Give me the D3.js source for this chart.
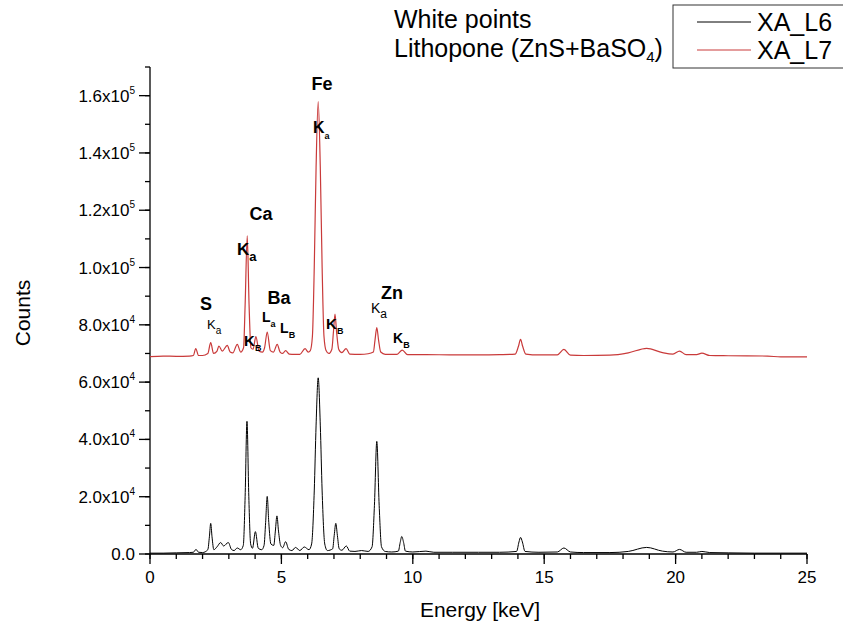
<!DOCTYPE html>
<html><head><meta charset="utf-8">
<script src="https://cdn.jsdelivr.net/npm/d3@7"></script>
<style>
html,body{margin:0;padding:0;background:#fff;}
svg{display:block;font-family:"Liberation Sans",Arial,sans-serif;}
</style></head>
<body>
<svg id="chart" width="843" height="633"></svg>
<script>
// ---- data: [energy keV, counts] ----
const spectrumL6 = [
[0,300],[0.5,300],[1.0,400],[1.5,500],[1.65,600],[1.75,1600],[1.85,600],[2.0,500],
[2.2,1500],[2.26,6000],[2.31,10700],[2.36,6000],[2.43,1500],[2.55,2500],[2.69,4000],[2.8,2800],[2.98,4000],
[3.1,1600],[3.2,1200],[3.32,2100],[3.45,1500],[3.55,3000],[3.62,20000],[3.69,46300],[3.76,20000],[3.83,3500],
[3.9,2000],[4.01,7800],[4.12,2000],[4.25,1500],[4.34,3000],[4.40,11000],[4.46,20100],[4.52,11000],[4.6,3500],
[4.71,3000],[4.77,8000],[4.83,13300],[4.89,8000],[4.97,3000],[5.05,2200],[5.16,4300],[5.28,1600],[5.4,1200],
[5.54,2300],[5.7,1200],[5.87,2450],[6.05,1500],[6.15,3500],[6.25,22000],[6.32,45000],[6.40,61500],[6.48,45000],
[6.55,22000],[6.65,3500],[6.75,1200],[6.95,1800],[7.01,6500],[7.07,10700],[7.13,6500],[7.2,1800],[7.3,1300],
[7.47,2800],[7.6,1000],[7.8,900],[8.05,1200],[8.3,900],[8.45,2500],[8.54,17000],[8.63,39300],[8.72,17000],
[8.81,2500],[8.95,900],[9.2,700],[9.45,1000],[9.52,4000],[9.58,6100],[9.65,4000],[9.72,1000],[10.0,700],
[10.5,1000],[10.8,600],[11.5,600],[12.5,600],[13.3,600],[13.95,900],[14.04,4200],[14.1,5800],[14.17,4200],
[14.27,900],[14.8,600],[15.5,700],[15.75,2100],[16.0,700],[16.5,500],[17.5,500],[18.2,900],[18.9,2300],
[19.5,1000],[19.9,700],[20.15,1600],[20.4,600],[20.8,600],[21.0,900],[21.3,500],[22,400],[23,300],[24,300],[25,300]
];
const spectrumL7 = [
[0,68900],[0.5,69100],[1.0,69000],[1.5,69100],[1.65,69300],[1.74,71700],[1.85,69300],[2.0,69300],
[2.2,70000],[2.31,73800],[2.42,70000],[2.55,70800],[2.62,72600],[2.75,70800],[2.94,72800],[3.05,70500],
[3.15,70200],[3.32,73200],[3.45,70500],[3.56,72000],[3.62,87000],[3.70,111100],[3.77,87000],[3.84,72000],
[3.92,71500],[4.03,75900],[4.15,70800],[4.28,70500],[4.36,72000],[4.46,77500],[4.58,71000],[4.7,70500],
[4.84,73200],[4.95,70500],[5.05,70000],[5.16,71000],[5.3,69800],[5.5,69700],[5.7,69700],[5.9,71700],
[6.02,70500],[6.1,71000],[6.18,76000],[6.25,100000],[6.32,135000],[6.40,157900],[6.48,135000],[6.55,100000],
[6.62,76000],[6.7,71000],[6.8,70000],[6.92,71500],[6.98,77500],[7.04,83700],[7.10,77500],[7.18,71500],
[7.3,70300],[7.46,71700],[7.6,69800],[8.0,69700],[8.3,69900],[8.5,70500],[8.56,74500],[8.63,79000],
[8.70,74500],[8.78,70500],[8.95,69700],[9.4,69700],[9.6,71200],[9.8,69600],[10.5,69600],[11.5,69500],
[12.5,69500],[13.3,69600],[13.9,69800],[14.02,72500],[14.1,74900],[14.18,72500],[14.3,69800],[14.8,69500],
[15.5,69500],[15.75,71400],[16.0,69400],[16.5,69300],[17.5,69400],[18.2,70200],[18.9,71800],[19.5,70300],
[19.9,69800],[20.15,70800],[20.4,69600],[20.8,69600],[21.0,70100],[21.3,69300],[22,69200],[23.5,69100],
[24.0,68800],[25,68800]
];
const seriesNames = ["XA_L6","XA_L7"];
const xMajorTicks = [0,5,10,15,20,25];
const xMinorTicks = d3.range(0,26,1);
const yMajorTicks = [0,20000,40000,60000,80000,100000,120000,140000,160000];
const yMinorTicks = d3.range(0,170001,10000);
const yTickMant = ["0.0","2.0","4.0","6.0","8.0","1.0","1.2","1.4","1.6"];
const yTickExp = ["","4","4","4","4","5","5","5","5"];
const titleLines = ["White points","Lithopone (ZnS+BaSO"];
// peak annotations
const elementLabels = [
  ["Fe",6.545,162100],["Ca",4.22,116600],["S",2.13,85100],["Ba",4.91,87200],["Zn",9.21,88900]
];
const lineLabels = [
  ["K","a",6.20,147000,"fe"],["K","a",3.31,104300,"ca"],["K","a",2.17,78400,"s"],
  ["L","a",4.26,81100,"l"],["L","B",4.95,77300,"l"],["K","B",3.58,72500,"kb"],
  ["K","B",6.70,78400,"kb"],["K","a",8.41,84000,"zn"],["K","B",9.25,73500,"znb"]
];

const svg = d3.select("#chart");
const x = d3.scaleLinear().domain([0,25]).range([150,807]);
const y = d3.scaleLinear().domain([0,170000]).range([554,67]);

// axes
const gx = svg.append("g").attr("transform","translate(0,554)");
gx.append("line").attr("x1",150).attr("x2",807).attr("stroke","#000").attr("stroke-width",1.3);
gx.selectAll(".mi").data(xMinorTicks).join("line")
  .attr("x1",d=>x(d)).attr("x2",d=>x(d)).attr("y1",0).attr("y2",5).attr("stroke","#000").attr("stroke-width",1.3);
gx.selectAll(".ma").data(xMajorTicks).join("line")
  .attr("x1",d=>x(d)).attr("x2",d=>x(d)).attr("y1",0).attr("y2",10).attr("stroke","#000").attr("stroke-width",1.3);
gx.selectAll(".lb").data(xMajorTicks).join("text")
  .attr("x",d=>x(d)).attr("y",29).attr("text-anchor","middle").attr("font-size",17).text(d=>d);

const gy = svg.append("g");
gy.append("line").attr("x1",150).attr("x2",150).attr("y1",y(0)).attr("y2",y(170000)).attr("stroke","#000").attr("stroke-width",1.3);
gy.selectAll(".mi").data(yMinorTicks).join("line")
  .attr("x1",145).attr("x2",150).attr("y1",d=>y(d)).attr("y2",d=>y(d)).attr("stroke","#000").attr("stroke-width",1.3);
gy.selectAll(".ma").data(yMajorTicks).join("line")
  .attr("x1",139).attr("x2",150).attr("y1",d=>y(d)).attr("y2",d=>y(d)).attr("stroke","#000").attr("stroke-width",1.3);
gy.selectAll(".lb").data(yMajorTicks).join("text")
  .attr("x",135).attr("y",d=>y(d)+6).attr("text-anchor","end").attr("font-size",17)
  .each(function(d,i){
    const t=d3.select(this);
    if(yTickExp[i]===""){ t.text(yTickMant[i]); return; }
    t.append("tspan").text(yTickMant[i]+"x10");
    t.append("tspan").attr("dy",-8).attr("font-size",10).text(yTickExp[i]);
  });

svg.append("text").attr("transform","translate(30,313) rotate(-90)").attr("text-anchor","middle")
  .attr("font-size",21).text("Counts");
svg.append("text").attr("x",480).attr("y",617).attr("text-anchor","middle").attr("font-size",21).text("Energy [keV]");

// lines
const line = d3.line().x(d=>x(d[0])).y(d=>y(d[1])).curve(d3.curveMonotoneX);
svg.append("path").datum(spectrumL6).attr("d",line).attr("fill","none").attr("stroke","#000").attr("stroke-width",1);
svg.append("path").datum(spectrumL7).attr("d",line).attr("fill","none").attr("stroke","#c93a3a").attr("stroke-width",1.2);

// annotations
svg.selectAll(".el").data(elementLabels).join("text")
  .attr("x",d=>x(d[1])).attr("y",d=>y(d[2])).attr("text-anchor","middle")
  .attr("font-size",18).attr("font-weight","bold").text(d=>d[0]);
const styles = {
  fe:{m:16,s:9,w:"bold",dy:6}, ca:{m:17,s:13,w:"bold",dy:6}, s:{m:13,s:10,w:"normal",dy:5},
  l:{m:14,s:9,w:"bold",dy:5}, kb:{m:15,s:9,w:"bold",dy:5}, zn:{m:14,s:12,w:"normal",dy:5}, znb:{m:14,s:9,w:"bold",dy:5}
};
svg.selectAll(".ll").data(lineLabels).join("text")
  .attr("x",d=>x(d[2])).attr("y",d=>y(d[3]))
  .attr("font-weight",d=>styles[d[4]].w)
  .each(function(d){
    const st=styles[d[4]]; const t=d3.select(this);
    t.append("tspan").attr("font-size",st.m).text(d[0]);
    t.append("tspan").attr("font-size",st.s).attr("dy",st.dy).text(d[1]);
  });

// title text
const tt = svg.append("g").attr("font-size",25);
tt.append("text").attr("x",394).attr("y",28).text(titleLines[0]);
const t2 = tt.append("text").attr("x",394).attr("y",57);
t2.append("tspan").text(titleLines[1]);
t2.append("tspan").attr("font-size",15).attr("dy",5).text("4");
t2.append("tspan").attr("dy",-5).text(")");

// legend
const lg = svg.append("g");
lg.append("rect").attr("x",673).attr("y",5).attr("width",175).attr("height",63)
  .attr("fill","#fff").attr("stroke","#333").attr("stroke-width",1);
const colors = ["#000","#c93a3a"];
seriesNames.forEach((n,i)=>{
  const yy = 22 + i*28;
  lg.append("line").attr("x1",697).attr("x2",751).attr("y1",yy).attr("y2",yy).attr("stroke",colors[i]).attr("stroke-width",1);
  lg.append("text").attr("x",757).attr("y",yy+9).attr("font-size",25).text(n);
});
</script>
</body></html>
